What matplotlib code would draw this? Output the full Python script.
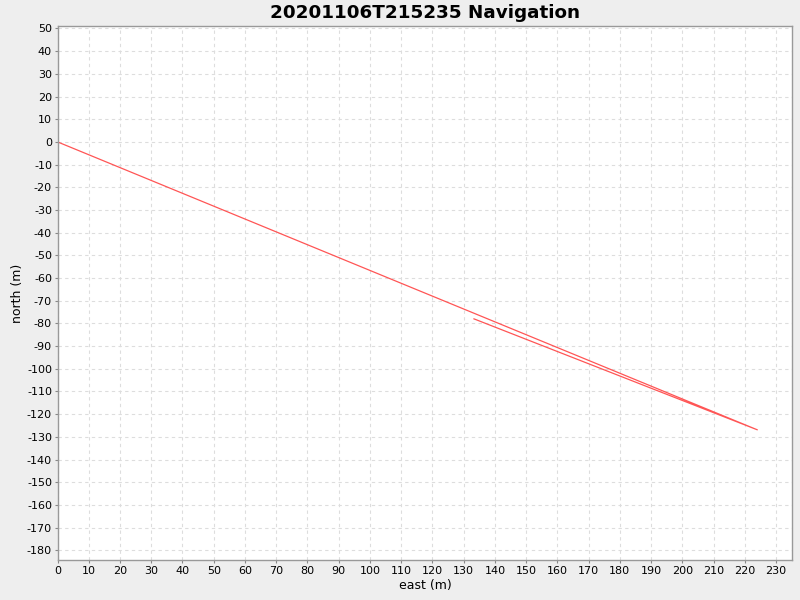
import numpy as np
import matplotlib
matplotlib.use("Agg")
import matplotlib.pyplot as plt

plt.rcParams['axes.unicode_minus'] = False

# track points
east = [0.0, 224.0, 133.3]
north = [0.0, -126.9, -78.0]

x_ticks = list(range(0, 231, 10))
y_ticks = list(range(-180, 51, 10))

fig = plt.figure(figsize=(8, 6), dpi=100, facecolor="#eeeeee")
ax = fig.add_axes([0.0719, 0.0662, 0.9185, 0.8898])
ax.set_facecolor("white")

ax.plot(east, north, color="#ff5555", linewidth=0.9)

ax.set_xlim(0, 235.2)
ax.set_ylim(-184.4, 50.9)
ax.set_xticks(x_ticks)
ax.set_yticks(y_ticks)
ax.tick_params(labelsize=8, length=2, color="#888888", pad=2)
ax.grid(True, color="#dddddd", linestyle=(0, (3, 3)), linewidth=0.8)
ax.set_axisbelow(True)
for s in ax.spines.values():
    s.set_color("#999999")
    s.set_linewidth(1)

ax.set_xlabel("east (m)", fontsize=9, labelpad=2)
ax.set_ylabel("north (m)", fontsize=9, labelpad=2)
ax.set_title("20201106T215235 Navigation", fontsize=13.2, fontweight="bold", pad=6)

fig.savefig("out.png", dpi=100, facecolor=fig.get_facecolor())
